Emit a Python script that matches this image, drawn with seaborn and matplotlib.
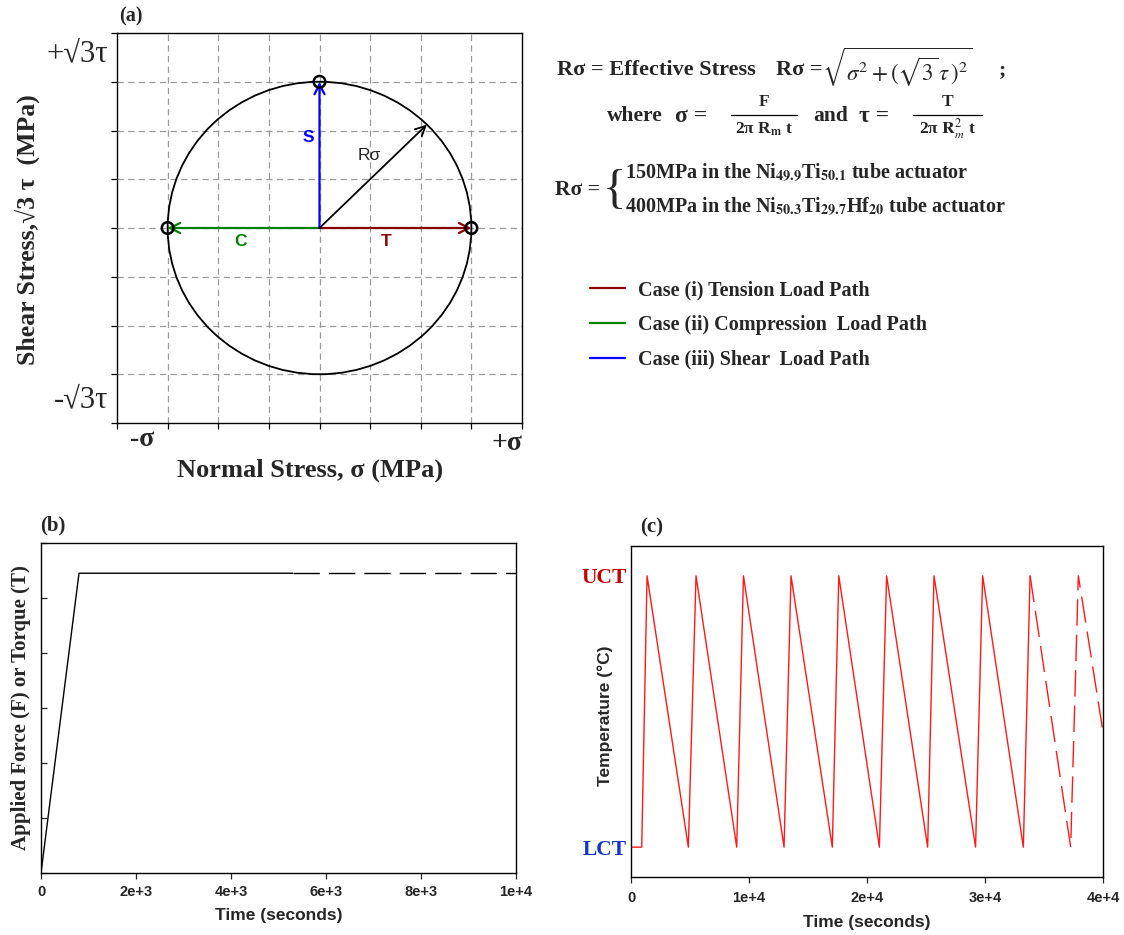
import matplotlib
matplotlib.use("Agg")
import matplotlib.pyplot as plt
from matplotlib.patches import Circle
from matplotlib.lines import Line2D
import matplotlib.transforms as mtransforms
import numpy as np
import pandas as pd
import seaborn as sns

# ---------------- (a) effective stress circle ----------------
RADIUS = 3.0
GRID_STEPS = [-3, -2, -1, 0, 1, 2, 3]
AXIS_TICKS = [-4, -3, -2, -1, 0, 1, 2, 3, 4]
PATH_NAMES = ["T", "C", "S"]
PATH_SIGMA = [3.0, -3.0, 0.0]
PATH_TAU = [0.0, 0.0, 3.0]
PATH_COLORS = ["#8B0000", "#008000", "#0000FF"]
PATH_LABEL_POS = [(1.31, -0.27), (-1.56, -0.27), (-0.22, 1.85)]
PATH_LEGEND = ["Case (i) Tension Load Path",
               "Case (ii) Compression  Load Path",
               "Case (iii) Shear  Load Path"]
RSIGMA_ANGLE_DEG = 45.0

# ---------------- (b) applied load history ----------------
LOAD_TIME = [0, 800, 5300]
LOAD_VALUE = [0.0, 5.45, 5.45]
LOAD_TIME_CONT = [5300, 10000]
LOAD_VALUE_CONT = [5.45, 5.45]
LOAD_XTICKS = [0, 2000, 4000, 6000, 8000, 10000]
LOAD_XTICKLABELS = ["0", "2e+3", "4e+3", "6e+3", "8e+3", "1e+4"]
LOAD_YTICKS = [0, 1, 2, 3, 4, 5, 6]

# ---------------- (c) thermal cycling history ----------------
# temperature normalised: 0 = LCT, 1 = UCT
TEMP_TIME = [0, 910, 1360, 4860, 5510, 8960, 9530, 12970, 13560, 17060,
             17610, 21050, 21660, 25140, 25680, 29200, 29800, 33250, 33820]
TEMP_VALUE = [0, 0, 1, 0, 1, 0, 1, 0, 1, 0,
              1, 0, 1, 0, 1, 0, 1, 0, 1]
TEMP_TIME_CONT = [33820, 37260, 37910, 40000]
TEMP_VALUE_CONT = [1, 0, 1, 0.425]
TEMP_XTICKS = [0, 10000, 20000, 30000, 40000]
TEMP_XTICKLABELS = ["0", "1e+4", "2e+4", "3e+4", "4e+4"]
TEMP_YTICKS = [0, 1]
TEMP_YTICKLABELS = ["LCT", "UCT"]
TEMP_YTICKCOLORS = ["#1436C8", "#C00000"]

W, H = 1124, 935
sns.set_theme(style="ticks")
plt.rcParams["font.family"] = ["Liberation Serif", "DejaVu Serif"]
plt.rcParams["mathtext.fontset"] = "stix"
plt.rcParams["axes.edgecolor"] = "black"
plt.rcParams["axes.linewidth"] = 1.0

fig = plt.figure(figsize=(W / 100, H / 100), dpi=100)


def box(x0, y0, x1, y1):
    """pixel box (top-left origin) -> figure rect"""
    return [x0 / W, 1 - y1 / H, (x1 - x0) / W, (y1 - y0) / H]


SERIF = "Liberation Serif"
SANS = "Liberation Sans"

# ======================= panel (a) =======================
axa = fig.add_axes(box(117, 33, 522, 423))
axa.set_xlim(-4, 4)
axa.set_ylim(-4, 4)
for g in GRID_STEPS:
    axa.axvline(g, color="#9a9a9a", lw=0.9, ls=(0, (5, 3.5)), zorder=0)
    axa.axhline(g, color="#9a9a9a", lw=0.9, ls=(0, (5, 3.5)), zorder=0)
axa.set_xticks(AXIS_TICKS)
axa.set_yticks(AXIS_TICKS)
axa.set_xticklabels([])
axa.set_yticklabels([])
axa.tick_params(direction="out", length=4, width=0.9, colors="black")
for s in axa.spines.values():
    s.set_linewidth(1.0)
    s.set_color("black")

axa.add_patch(Circle((0, 0), RADIUS, fill=False, ec="black", lw=1.3, zorder=3))

for name, sx, ty, col, (lx, ly) in zip(PATH_NAMES, PATH_SIGMA, PATH_TAU,
                                        PATH_COLORS, PATH_LABEL_POS):
    axa.annotate("", xy=(sx, ty), xytext=(0, 0),
                 arrowprops=dict(arrowstyle="->", color=col, lw=1.6,
                                 shrinkA=0, shrinkB=0, mutation_scale=18),
                 zorder=4)
    axa.text(lx, ly, name, color=col, fontsize=12.5, fontweight="bold",
             family=SANS, ha="center", va="center")

ang = np.deg2rad(RSIGMA_ANGLE_DEG)
axa.annotate("", xy=(RADIUS * np.cos(ang), RADIUS * np.sin(ang)), xytext=(0, 0),
             arrowprops=dict(arrowstyle="->", color="black", lw=1.3,
                             shrinkA=0, shrinkB=0, mutation_scale=18),
             zorder=4)
axa.text(0.98, 1.48, "R\u03c3", fontsize=12.5, family=SANS, ha="center", va="center")

sns.scatterplot(x=PATH_SIGMA, y=PATH_TAU, ax=axa, s=70, marker="o",
                facecolor="none", edgecolor="black", linewidth=1.8, zorder=5)

ytr = mtransforms.blended_transform_factory(fig.transFigure, axa.transData)
fig.text(108 / W, 3.58, "+\u221a3\u03c4", transform=ytr, ha="right", va="center",
         fontsize=22)
fig.text(108 / W, -3.52, "-\u221a3\u03c4", transform=ytr, ha="right", va="center",
         fontsize=22)
xtr = mtransforms.blended_transform_factory(axa.transData, fig.transFigure)
fig.text(-3.5, 1 - 440 / H, "-\u03c3", transform=xtr, ha="center", va="center",
         fontsize=20, fontweight="bold")
fig.text(3.7, 1 - 444 / H, "+\u03c3", transform=xtr, ha="center", va="center",
         fontsize=20, fontweight="bold")
fig.text(310 / W, 1 - 470 / H, "Normal Stress, \u03c3 (MPa)", ha="center", va="center",
         fontsize=19, fontweight="bold")
fig.text(27 / W, 1 - 230 / H, "Shear Stress,\u221a3 \u03c4  (MPa)", rotation=90,
         ha="center", va="center", fontsize=18.5, fontweight="bold")
fig.text(119 / W, 1 - 16 / H, "(a)", ha="left", va="center", fontsize=14.5,
         fontweight="bold")

# ---------------- formula block ----------------
def ftext(x, y, s, **kw):
    kw.setdefault("fontsize", 14.5)
    kw.setdefault("fontweight", "bold")
    return fig.text(x / W, 1 - y / H, s, va="center", **kw)


ftext(557, 70, "R\u03c3 = Effective Stress", fontsize=16)
ftext(776, 70, "R\u03c3 =", fontsize=16)
ftext(822, 68, r"$\sqrt{\sigma^2 + (\sqrt{3}\,\tau\,)^2}$", fontsize=16.5)
ftext(999, 70, ";", fontsize=16)

ftext(607, 116, "where", fontsize=15.5)
ftext(675, 116, "\u03c3 =", fontsize=17)
ftext(764, 102, "F", ha="center", fontsize=12.5)
ftext(764, 129, "2\u03c0 R$_{\\mathbf{m}}$ t", ha="center", fontsize=12.5)
ftext(813, 116, "and", fontsize=15.5)
ftext(859, 116, "\u03c4 =", fontsize=17)
ftext(948, 102, "T", ha="center", fontsize=12.5)
ftext(948, 129, "2\u03c0 $\\mathbf{R}_m^2$ t", ha="center", fontsize=12.5)
fig.add_artist(Line2D([731 / W, 797 / W], [1 - 115 / H] * 2, color="black", lw=0.9))
fig.add_artist(Line2D([913 / W, 982 / W], [1 - 115 / H] * 2, color="black", lw=0.9))

ftext(555, 190, "R\u03c3 =", fontsize=15.5)
ftext(603, 191, "{", fontsize=35, fontweight="normal")
ftext(625, 173, "150MPa in the Ni$_{\\mathbf{49.9}}$Ti$_{\\mathbf{50.1}}$ tube actuator")
ftext(625, 207, "400MPa in the Ni$_{\\mathbf{50.3}}$Ti$_{\\mathbf{29.7}}$Hf$_{\\mathbf{20}}$ tube actuator")

handles = [Line2D([], [], color=c, lw=1.6) for c in PATH_COLORS]
fig.legend(handles, PATH_LEGEND, loc="upper left", bbox_to_anchor=(590 / W, 1 - 280 / H),
           frameon=False, prop={"family": SERIF, "weight": "bold", "size": 14.5},
           handlelength=1.75, handletextpad=0.65, labelspacing=0.74, borderpad=0,
           borderaxespad=0)

# ======================= panel (b) =======================
axb = fig.add_axes(box(41, 543, 516, 873))
load_df = pd.DataFrame({"time": LOAD_TIME, "load": LOAD_VALUE})
load_cont = pd.DataFrame({"time": LOAD_TIME_CONT, "load": LOAD_VALUE_CONT})
sns.lineplot(data=load_df, x="time", y="load", ax=axb, color="black", lw=1.0,
             sort=False, estimator=None)
sns.lineplot(data=load_cont, x="time", y="load", ax=axb, color="black", lw=1.0,
             sort=False, estimator=None, linestyle=(0, (19, 6.5)))
axb.set_xlim(0, 10000)
axb.set_ylim(0, 6)
axb.set_xticks(LOAD_XTICKS)
axb.set_xticklabels(LOAD_XTICKLABELS)
axb.set_yticks(LOAD_YTICKS)
axb.set_yticklabels([])
axb.tick_params(axis="x", direction="out", length=4, width=0.9, pad=5)
axb.tick_params(axis="y", direction="in", length=4, width=0.9)
for lab in axb.get_xticklabels():
    lab.set_family(SANS)
    lab.set_fontweight("bold")
    lab.set_fontsize(10.5)
axb.set_xlabel("Time (seconds)", family=SANS, fontweight="bold", fontsize=12.5,
               labelpad=6)
axb.set_ylabel("Applied Force (F) or Torque (T)", fontweight="bold", fontsize=15,
               labelpad=4)
fig.text(40 / W, 1 - 525 / H, "(b)", ha="left", va="center", fontsize=15,
         fontweight="bold")

# ======================= panel (c) =======================
axc = fig.add_axes(box(631, 546, 1103, 877))
temp_df = pd.DataFrame({"time": TEMP_TIME, "temp": TEMP_VALUE})
temp_cont = pd.DataFrame({"time": TEMP_TIME_CONT, "temp": TEMP_VALUE_CONT})
sns.lineplot(data=temp_df, x="time", y="temp", ax=axc, color="#FF1A1A", lw=1.0,
             sort=False, estimator=None)
sns.lineplot(data=temp_cont, x="time", y="temp", ax=axc, color="#FF1A1A", lw=1.0,
             sort=False, estimator=None, linestyle=(0, (19, 6.5)))
axc.set_xlim(0, 40000)
axc.set_ylim(-0.11, 1.11)
axc.set_xticks(TEMP_XTICKS)
axc.set_xticklabels(TEMP_XTICKLABELS)
axc.set_yticks(TEMP_YTICKS)
axc.set_yticklabels(TEMP_YTICKLABELS)
axc.tick_params(axis="x", direction="out", length=4, width=0.9, pad=6)
axc.tick_params(axis="y", length=0, pad=3)
for lab in axc.get_xticklabels():
    lab.set_family(SANS)
    lab.set_fontweight("bold")
    lab.set_fontsize(10.5)
for lab, col in zip(axc.get_yticklabels(), TEMP_YTICKCOLORS):
    lab.set_color(col)
    lab.set_fontweight("bold")
    lab.set_fontsize(15.5)
axc.set_xlabel("Time (seconds)", family=SANS, fontweight="bold", fontsize=12.5,
               labelpad=7)
axc.set_ylabel("")
fig.text(605 / W, 1 - 716 / H, "Temperature (\u00b0C)", family=SANS, fontsize=12.5,
         fontweight="bold", rotation=90, ha="center", va="center")
fig.text(640 / W, 1 - 527 / H, "(c)", ha="left", va="center", fontsize=15,
         fontweight="bold")

for ax in (axb, axc):
    for s in ax.spines.values():
        s.set_color("black")
        s.set_linewidth(1.0)
    ax.set_facecolor("white")

fig.savefig("out.png", dpi=100, facecolor="white")
